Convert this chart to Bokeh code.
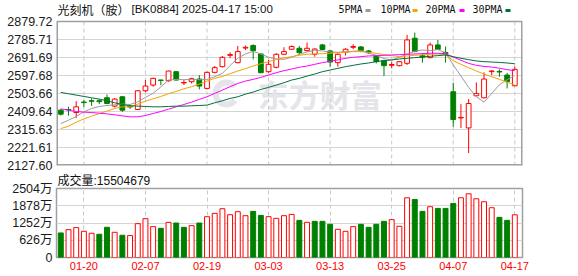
from bokeh.plotting import figure
from bokeh.layouts import column
from bokeh.models import (Range1d, FixedTicker, Label, ColumnDataSource,
                          PrintfTickFormatter, Title)
from bokeh.core.properties import value
from bokeh.embed import file_html
from bokeh.resources import INLINE

# ---------------- data ----------------
dates = ["01-15", "01-16", "01-17", "01-20", "01-21", "01-22", "01-23", "01-24", "01-27",
         "02-05", "02-06", "02-07", "02-10", "02-11", "02-12", "02-13", "02-14", "02-17",
         "02-18", "02-19", "02-20", "02-21", "02-24", "02-25", "02-26", "02-27", "02-28",
         "03-03", "03-04", "03-05", "03-06", "03-07", "03-10", "03-11", "03-12", "03-13",
         "03-14", "03-17", "03-18", "03-19", "03-20", "03-21", "03-24", "03-25", "03-26",
         "03-27", "03-28", "03-31", "04-01", "04-02", "04-03", "04-07", "04-08", "04-09",
         "04-10", "04-11", "04-14", "04-15", "04-16", "04-17"]
tick_dates = ["01-20", "02-07", "02-19", "03-03", "03-13", "03-25", "04-07", "04-17"]

open_ = [2416.7, 2420, 2404.4, 2459, 2466, 2466, 2481.3, 2437.6, 2486.5, 2437,
         2420.2, 2518, 2547.7, 2574, 2570.4, 2617.6, 2559, 2565.2, 2579.2, 2530.2,
         2614.1, 2643.8, 2703, 2664.8, 2741, 2753.9, 2710.2, 2617.6, 2640.3, 2708.5,
         2734.7, 2739.9, 2727.7, 2708.5, 2757.4, 2725.9, 2664.8, 2719, 2745, 2746.9,
         2726, 2699.7, 2675.3, 2651, 2649, 2661.3, 2792.3, 2701.5, 2691, 2757.4,
         2718, 2512.8, 2376, 2324, 2491.8, 2481.3, 2618, 2619, 2600.1, 2544.2]
high = [2423.6, 2434, 2463.8, 2469, 2478, 2473, 2498.8, 2479.5, 2490, 2446,
        2521.5, 2574, 2586, 2575, 2623, 2619, 2574, 2586, 2600, 2618,
        2647, 2699.7, 2719, 2752, 2754, 2761, 2714, 2679, 2714, 2745,
        2755, 2752, 2769.6, 2740, 2763, 2731, 2714, 2740, 2761, 2752,
        2731, 2705, 2679, 2670, 2673, 2809.8, 2822, 2714, 2769.6, 2783.6,
        2748.7, 2560, 2448.1, 2474.3, 2561.7, 2614, 2626, 2630, 2612, 2643.8]
low = [2388.7, 2388, 2376.5, 2434, 2439, 2448, 2448, 2430.6, 2408, 2423,
       2416.7, 2511, 2539, 2547, 2565, 2572, 2548, 2556, 2525, 2525,
       2609, 2640, 2688, 2661, 2731, 2682, 2609, 2612, 2635, 2705,
       2732, 2705, 2722.5, 2696, 2731, 2643.8, 2643.8, 2702, 2735, 2719,
       2710, 2661, 2594.9, 2635, 2645, 2652.6, 2719, 2664.8, 2687.5, 2731,
       2664.8, 2329.3, 2324, 2193, 2490, 2478, 2600, 2591, 2530.2, 2542]
close = [2395.7, 2418, 2434.1, 2456, 2463, 2461, 2451.6, 2474.3, 2416.7, 2433,
         2518, 2542.5, 2582.7, 2572, 2621, 2574, 2561, 2581, 2542.5, 2614,
         2638.6, 2692.7, 2707, 2722.5, 2745, 2727.7, 2612.4, 2656, 2708.5, 2722.5,
         2748.7, 2717.2, 2739.9, 2736, 2734, 2668, 2708.5, 2734.7, 2749, 2727.7,
         2717, 2670, 2649, 2655, 2670, 2783.6, 2722.5, 2692.7, 2757.4, 2734.7,
         2712, 2367.7, 2379, 2451.6, 2504, 2579.2, 2621, 2616, 2565.2, 2629.8]

ma5 = [2346.8, 2364.2, 2383.5, 2407.9, 2425.4, 2435.9, 2441.1, 2444.6, 2448.1, 2446.4,
       2460.3, 2483.1, 2505.0, 2538.0, 2573.9, 2577.4, 2575.7, 2577.4, 2575.7, 2577.4,
       2591.4, 2608.9, 2650.0, 2688.0, 2710.0, 2724.2, 2710.2, 2692.7, 2684.0, 2682.2,
       2692.7, 2708.5, 2720.7, 2729.4, 2725.9, 2720.7, 2719.0, 2720.7, 2724.2, 2727.7,
       2713.7, 2703.2, 2685.8, 2678.8, 2692.7, 2710.2, 2724.2, 2731.2, 2727.7, 2733.0,
       2717.2, 2652.6, 2594.9, 2535.5, 2486.6, 2458.6, 2504.0, 2550.0, 2575.0, 2598.0]
ma10 = [2320.6, 2332.8, 2353.8, 2371.2, 2385.2, 2399.2, 2411.4, 2425.4, 2434.1, 2434.1,
        2448.1, 2463.8, 2476.1, 2488.3, 2502.3, 2514.5, 2528.5, 2539.0, 2553.0, 2568.7,
        2582.7, 2593.1, 2607.1, 2621.1, 2633.3, 2647.3, 2659.5, 2670.0, 2682.2, 2689.3,
        2696.2, 2703.2, 2708.5, 2710.2, 2712.0, 2713.7, 2717.2, 2719.0, 2722.5, 2722.5,
        2719.0, 2713.7, 2706.7, 2701.5, 2696.2, 2699.7, 2703.2, 2704.9, 2708.5, 2710.2,
        2706.7, 2675.3, 2656.1, 2638.6, 2621.1, 2605.4, 2591.4, 2577.4, 2563.4, 2547.7]
ma20 = [2423.6, 2416.7, 2409.7, 2406.2, 2404.4, 2400.9, 2397.4, 2392.2, 2387.0, 2381.7,
        2381.7, 2388.7, 2399.2, 2409.7, 2421.9, 2434.1, 2446.4, 2458.6, 2472.6, 2486.6,
        2504.0, 2521.5, 2539.0, 2556.4, 2568.7, 2577.4, 2587.9, 2600.1, 2612.4, 2622.9,
        2631.6, 2640.3, 2647.3, 2656.1, 2664.8, 2671.8, 2678.8, 2687.5, 2692.7, 2696.2,
        2699.7, 2701.5, 2703.2, 2704.9, 2706.7, 2708.5, 2710.2, 2712.0, 2713.7, 2713.7,
        2712.0, 2694.0, 2677.0, 2661.0, 2650.8, 2645.0, 2641.6, 2636.0, 2628.0, 2623.0]
ma30 = [2509.3, 2502.3, 2495.3, 2488.3, 2481.3, 2474.3, 2465.6, 2455.1, 2446.4, 2439.4,
        2437.6, 2435.9, 2434.1, 2434.1, 2435.9, 2437.6, 2437.6, 2439.4, 2441.1, 2442.9,
        2455.1, 2465.6, 2477.8, 2486.6, 2500.5, 2511.0, 2525.0, 2535.5, 2547.7, 2560.0,
        2573.9, 2582.7, 2594.9, 2605.4, 2617.6, 2626.3, 2635.0, 2643.8, 2650.8, 2657.8,
        2663.0, 2670.0, 2675.3, 2678.8, 2684.0, 2687.5, 2691.0, 2694.5, 2698.0, 2701.5,
        2704.9, 2696.0, 2687.5, 2680.5, 2673.5, 2670.0, 2668.0, 2666.0, 2663.0, 2659.0]

# volume in 万 (10k) and its colour direction (R = up vs previous close, G = down)
volume = [891, 1011, 1084, 951, 879, 843, 1096, 915, 807, 795,
          1228, 1409, 1120, 1060, 1276, 1252, 1096, 1156, 1252, 1481,
          1601, 1770, 1553, 1662, 1517, 1674, 1529, 1481, 1421, 1517,
          1565, 1348, 1276, 1312, 1312, 1204, 1023, 951, 1120, 1204,
          1096, 1204, 1312, 1373, 1132, 2167, 2107, 1674, 1842, 1782,
          1782, 1962, 2167, 2312, 2131, 2023, 1806, 1457, 1348, 1550]
vol_dir = list("GRRRRGGRGR" "RRRGRGGRGR" "RRRRRGGRRR" "RGRGGGRRRG" "GGGRRRGGRG" "GGRRRRRGGR")

price_ticks = [2127.60, 2221.61, 2315.63, 2409.64, 2503.66, 2597.68, 2691.69, 2785.71, 2879.72]
vol_ticks = [0, 626, 1252, 1878, 2504]
vol_tick_labels = ["0", "626万", "1252万", "1878万", "2504万"]
title_cn = "光刻机（胺）"
title_rest = "[BK0884] 2025-04-17 15:00"
vol_title = "成交量:15504679"
ma_names = ["5PMA", "10PMA", "20PMA", "30PMA"]

# ---------------- style / layout constants ----------------
RED = "#ff0000"
GREEN = "#008000"
MA_COLORS = ["#9a9a9a", "#f5a300", "#ff00ff", "#00703a"]
GRID = "#d4d4d4"
VGRID = "#c8c8c8"
BORDER = "#a0a0a0"
WATERMARK = "#e4e4ea"
NUMFONT = "Liberation Sans"
CJK = "Noto Sans CJK SC"
FRAME_W = 466
LEFT = 56
RIGHT = 56
HEAD = 21                      # header strip (inside the price frame, above the box)
P_FH, P_BOT = 144, 7           # price box height, bottom border
V_TOP, V_FH, V_BOT = 15, 69, 20

n = len(dates)
xs = list(range(n))
ticks = [dates.index(d) for d in tick_dates]
x_range = Range1d(-0.56, n)
per_px_y = (price_ticks[-1] - price_ticks[0]) / P_FH
per_px_x = (x_range.end - x_range.start) / FRAME_W
y_top = price_ticks[-1] + HEAD * per_px_y


def hx(cx):   # page pixel x -> x data
    return x_range.start + (cx - LEFT) * per_px_x


def hy(cy):   # page pixel y (from top) -> y data
    return price_ticks[-1] + (HEAD - cy) * per_px_y


up = [c >= o for o, c in zip(open_, close)]
csrc = ColumnDataSource(dict(
    x=xs, high=high, low=low,
    top=[max(o, c) for o, c in zip(open_, close)],
    bottom=[min(o, c) for o, c in zip(open_, close)],
    line=[RED if u else GREEN for u in up],
    fill=["white" if u else GREEN for u in up],
))
vsrc = ColumnDataSource(dict(
    x=xs, vol=volume,
    line=[RED if d == "R" else GREEN for d in vol_dir],
    fill=["white" if d == "R" else GREEN for d in vol_dir],
))


def style_yaxis(p):
    p.background_fill_color = "white"
    p.border_fill_color = "white"
    p.yaxis.axis_line_color = None
    p.yaxis.major_tick_line_color = None
    p.yaxis.minor_tick_line_color = None
    p.yaxis.major_tick_out = 0
    p.yaxis.major_tick_in = 0
    p.yaxis.major_label_standoff = 4
    p.yaxis.major_label_text_font = NUMFONT + ", " + CJK
    p.yaxis.major_label_text_font_size = "12.5px"
    p.yaxis.major_label_text_color = "#1a1a1a"
    p.ygrid.grid_line_color = GRID
    p.ygrid.grid_line_width = 1


# ---------------- price panel (header strip inside the frame) ----------------
p1 = figure(frame_width=FRAME_W, frame_height=HEAD + P_FH,
            min_border_left=LEFT, min_border_right=RIGHT,
            min_border_top=0, min_border_bottom=P_BOT,
            x_range=x_range, y_range=Range1d(price_ticks[0], y_top),
            x_axis_location=None, output_backend="svg", toolbar_location=None)
style_yaxis(p1)
p1.outline_line_color = None
p1.xgrid.visible = False
p1.yaxis.ticker = FixedTicker(ticks=price_ticks)
p1.yaxis.formatter = PrintfTickFormatter(format="%.2f")
p1.ygrid.ticker = FixedTicker(ticks=price_ticks[1:-1])

# dashed vertical date grid, inside the price box only
p1.segment(x0=ticks, y0=[price_ticks[0]] * len(ticks), x1=ticks,
           y1=[price_ticks[-1]] * len(ticks), line_color=VGRID, line_dash="4 3",
           line_width=1)

# watermark (logo ring + text)
p1.annular_wedge(x=[hx(226)], y=[hy(93)], inner_radius=8, outer_radius=14,
                 inner_radius_units="screen", outer_radius_units="screen",
                 start_angle=0.7, end_angle=5.6, fill_color=WATERMARK, line_color=None,
                 level="underlay")
p1.add_layout(Label(x=25.6, y=2503, text="东方财富", text_font=CJK, text_font_size="31px",
                    text_font_style="bold", text_color=WATERMARK, text_baseline="middle",
                    text_align="left", level="underlay"))

p1.segment(x0="x", y0="low", x1="x", y1="high", line_color="line", line_width=1, source=csrc)
p1.vbar(x="x", width=0.62, top="top", bottom="bottom", fill_color="fill",
        line_color="line", line_width=1, source=csrc)
for ma, col in zip([ma5, ma10, ma20, ma30], MA_COLORS):
    p1.line(xs, ma, line_color=col, line_width=1)

# box border of the price area (edges on the frame edge are half clipped -> wider)
xe0, xe1 = x_range.start, x_range.end
p1.segment(x0=[xe0, xe1, xe0], y0=[price_ticks[0], price_ticks[0], price_ticks[0]],
           x1=[xe0, xe1, xe1], y1=[price_ticks[-1], price_ticks[-1], price_ticks[0]],
           line_color=BORDER, line_width=3)
p1.segment(x0=[xe0], y0=[price_ticks[-1]], x1=[xe1], y1=[price_ticks[-1]],
           line_color=BORDER, line_width=1.5)

# header: title and MA legend
p1.text(x=[hx(57)], y=[hy(8.5)], text=[title_cn], text_font=value(CJK),
        text_font_size="12px", text_color="#111111", text_baseline="middle",
        text_align="left")
p1.text(x=[hx(131)], y=[hy(8.5)], text=[title_rest], text_font=value(NUMFONT),
        text_font_size="11.5px", text_color="#111111", text_baseline="middle",
        text_align="left")
leg_text_px = [338, 380, 425, 472]
leg_mark_px = [367.5, 414.5, 461.5, 507.5]
p1.text(x=[hx(v) for v in leg_text_px], y=[hy(9)] * 4, text=ma_names,
        text_font=value("DejaVu Sans Mono"), text_font_size="10px", text_color="#111111",
        text_baseline="middle", text_align="left")
p1.rect(x=[hx(v) for v in leg_mark_px], y=[hy(10)] * 4, width=5, height=3,
        width_units="screen", height_units="screen", fill_color=MA_COLORS, line_color=None)

# ---------------- volume panel ----------------
p2 = figure(frame_width=FRAME_W, frame_height=V_FH,
            min_border_left=LEFT, min_border_right=RIGHT,
            min_border_top=V_TOP, min_border_bottom=V_BOT,
            x_range=x_range, y_range=Range1d(0, vol_ticks[-1]),
            output_backend="svg", toolbar_location=None)
p2.title = Title(text=vol_title, align="left", offset=1, standoff=0,
                 vertical_align="middle", text_font=NUMFONT + ", " + CJK,
                 text_font_size="12px", text_font_style="normal", text_color="#111111")
style_yaxis(p2)
p2.outline_line_color = BORDER
p2.outline_line_width = 1.5
p2.xgrid.ticker = FixedTicker(ticks=ticks)
p2.xgrid.grid_line_color = VGRID
p2.xgrid.grid_line_dash = "4 3"
p2.yaxis.ticker = FixedTicker(ticks=vol_ticks)
p2.yaxis.major_label_overrides = {t: s for t, s in zip(vol_ticks, vol_tick_labels)}
p2.ygrid.ticker = FixedTicker(ticks=vol_ticks)
p2.xaxis.ticker = FixedTicker(ticks=ticks)
p2.xaxis.major_label_overrides = {i: dates[i] for i in ticks}
p2.xaxis.axis_line_color = None
p2.xaxis.major_tick_line_color = None
p2.xaxis.minor_tick_line_color = None
p2.xaxis.major_tick_out = 0
p2.xaxis.major_tick_in = 0
p2.xaxis.major_label_standoff = 4
p2.xaxis.major_label_text_font = NUMFONT
p2.xaxis.major_label_text_font_size = "11px"
p2.xaxis.major_label_text_color = RED

p2.vbar(x="x", width=0.64, top="vol", bottom=0, fill_color="fill",
        line_color="line", line_width=1, source=vsrc)

layout = column(p1, p2, spacing=0)
open("out.html", "w").write(file_html(layout, INLINE))
